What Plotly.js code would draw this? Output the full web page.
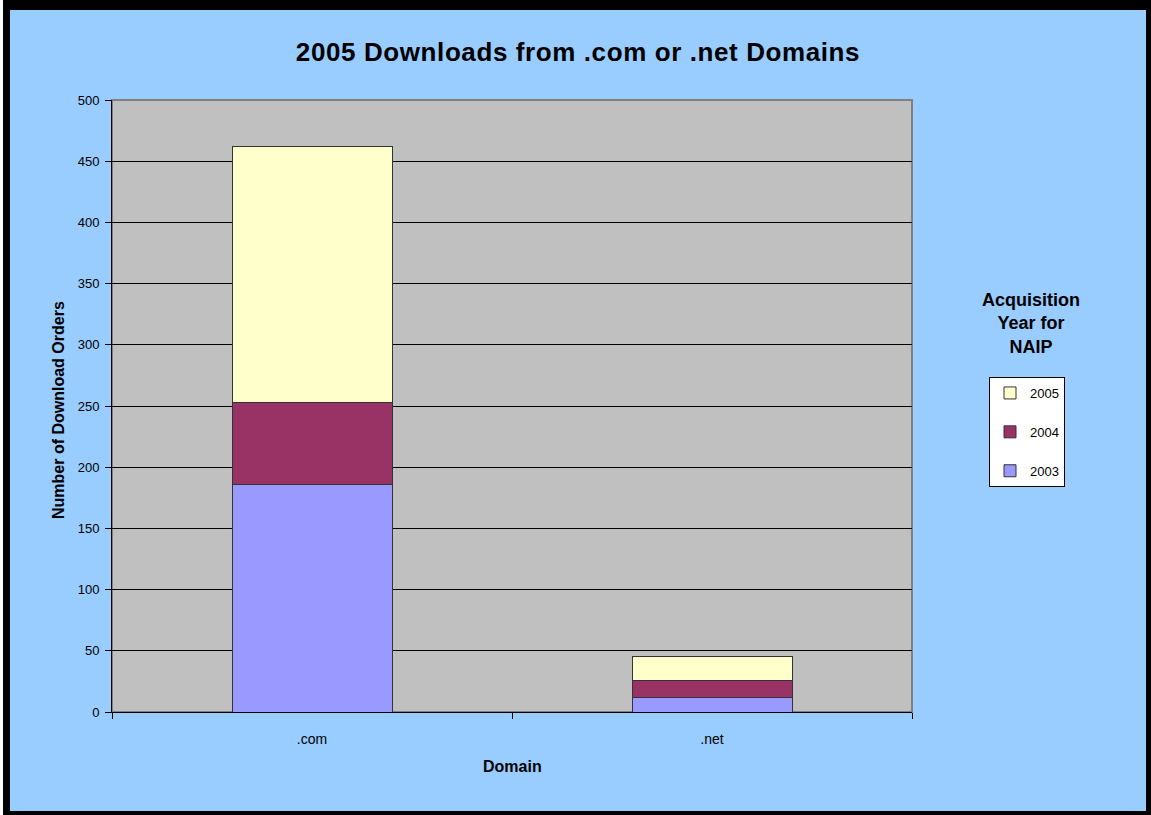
<!DOCTYPE html>
<html>
<head>
<meta charset="utf-8">
<script src="https://cdn.plot.ly/plotly-3.0.1.min.js"></script>
<style>
  html, body { margin: 0; padding: 0; background: #ffffff; width: 1151px; height: 815px; overflow: hidden; }
  #frame { position: absolute; left: 3px; top: 0px; width: 1148px; height: 815px; background: #000000; }
  #chart { position: absolute; left: 7px; top: 10px; width: 1136px; height: 801px; }
  #chart .gtitle { letter-spacing: 0.6px; }
</style>
</head>
<body>
<div id="frame"><div id="chart"></div></div>
<script>
const categories = ['.com', '.net'];
const years = ['2003', '2004', '2005'];
const values2003 = [186, 12];
const values2004 = [67, 14];
const values2005 = [209, 19];
const yTicks = [0, 50, 100, 150, 200, 250, 300, 350, 400, 450, 500];

const seriesValues = [values2003, values2004, values2005];
const colors = ['#9999FF', '#993366', '#FFFFCC'];

const traces = years.map((yr, i) => ({
  type: 'bar',
  name: yr,
  x: categories,
  y: seriesValues[i],
  legendgroup: yr,
  legendrank: 1000 - i,
  marker: { color: colors[i], line: { color: '#333333', width: 1 } },
  hoverinfo: 'x+y+name'
}));

const font = "Arial, 'Liberation Sans', sans-serif";
const L = 102, PW = 800, T = 90, PH = 612;

const layout = {
  width: 1136,
  height: 801,
  paper_bgcolor: '#99CCFF',
  plot_bgcolor: '#C0C0C0',
  margin: { l: L, r: 1136 - L - PW, t: T, b: 801 - T - PH },
  barmode: 'stack',
  bargap: 0.6,
  showlegend: true,
  font: { family: font, color: '#000000' },
  title: {
    text: '<b>2005 Downloads from .com or .net Domains</b>',
    font: { family: font, size: 26, color: '#000000' },
    x: 568 / 1136, xref: 'container', xanchor: 'center',
    y: 1 - 42 / 801, yref: 'container', yanchor: 'middle'
  },
  xaxis: {
    type: 'category',
    showline: true, linecolor: '#000000', linewidth: 1,
    ticks: 'outside', tickson: 'boundaries', ticklen: 6, tickcolor: '#000000',
    ticklabelstandoff: 14,
    tickfont: { family: font, size: 14, color: '#000000' },
    showgrid: false, zeroline: false,
    fixedrange: true
  },
  yaxis: {
    range: [0, 500],
    tickvals: yTicks,
    ticktext: yTicks.map(String),
    showline: true, linecolor: '#000000', linewidth: 1,
    ticks: 'outside', ticklen: 6, tickcolor: '#000000',
    ticklabelstandoff: 3,
    tickfont: { family: font, size: 13, color: '#000000' },
    showgrid: true, gridcolor: '#000000', gridwidth: 1,
    zeroline: false,
    fixedrange: true
  },
  legend: {
    traceorder: 'grouped',
    tracegroupgap: 19,
    bgcolor: '#FFFFFF',
    bordercolor: '#000000',
    borderwidth: 1,
    font: { family: font, size: 13, color: '#000000' },
    x: (979 - L) / PW, xanchor: 'left',
    y: (T + PH - 367) / PH, yanchor: 'top',
    itemwidth: 30
  },
  shapes: [{
    type: 'rect', xref: 'paper', yref: 'paper', x0: 0, x1: 1, y0: 0, y1: 1,
    line: { color: '#808080', width: 2 }, layer: 'below'
  }],
  annotations: [
    {
      text: '<b>Acquisition<br>Year for<br>NAIP</b>',
      xref: 'paper', yref: 'paper',
      x: (1021 - L) / PW, y: (T + PH - 313) / PH,
      xanchor: 'center', yanchor: 'middle',
      showarrow: false, align: 'center',
      font: { family: font, size: 18, color: '#000000' }
    },
    {
      text: '<b>Number of Download Orders</b>',
      xref: 'paper', yref: 'paper',
      x: (48 - L) / PW, y: (T + PH - 400) / PH,
      xanchor: 'center', yanchor: 'middle',
      textangle: -90, showarrow: false,
      font: { family: font, size: 16, color: '#000000' }
    },
    {
      text: '<b>Domain</b>',
      xref: 'paper', yref: 'paper',
      x: (502 - L) / PW, y: -(757 - T - PH) / PH,
      xanchor: 'center', yanchor: 'middle',
      showarrow: false,
      font: { family: font, size: 16, color: '#000000' }
    }
  ]
};

Plotly.newPlot('chart', traces, layout, { displayModeBar: false, staticPlot: true });
</script>
</body>
</html>
